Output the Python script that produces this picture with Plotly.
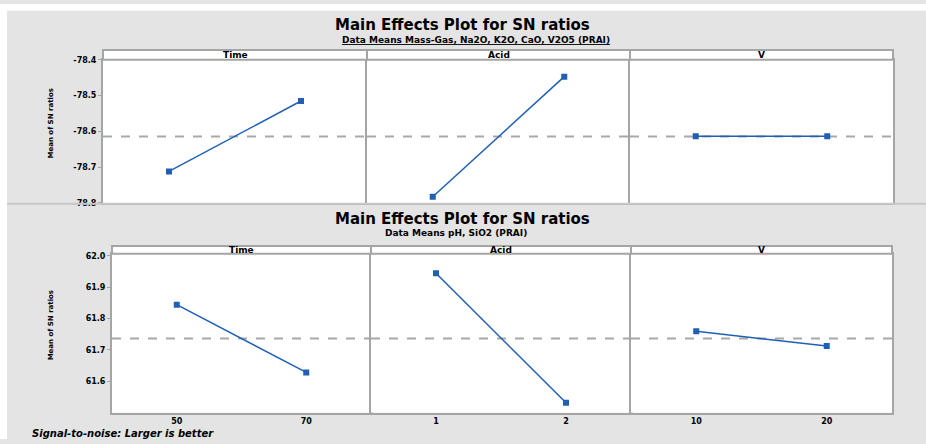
import numpy as np
import plotly.graph_objects as go

W, H = 926, 444

factors = ["Time", "Acid", "V"]
time_levels = ["50", "70"]
acid_levels = ["1", "2"]
v_levels = ["10", "20"]
levels = [time_levels, acid_levels, v_levels]

top_time_sn = [-78.712, -78.515]
top_acid_sn = [-78.783, -78.447]
top_v_sn = [-78.614, -78.614]
top_ticks = [-78.8, -78.7, -78.6, -78.5, -78.4]

bot_time_sn = [61.844, 61.628]
bot_acid_sn = [61.944, 61.531]
bot_v_sn = [61.759, 61.712]
bot_ticks = [61.6, 61.7, 61.8, 61.9, 62.0]

top_title = "Main Effects Plot for SN ratios"
top_sub = "Data Means Mass-Gas, Na2O, K2O, CaO, V2O5 (PRAI)"
bot_title = "Main Effects Plot for SN ratios"
bot_sub = "Data Means pH, SiO2 (PRAI)"
ylab = "Mean of SN ratios"
foot = "Signal-to-noise: Larger is better"

BLUE = "#1f5fb4"
GRID = "#a5a5a5"
BG = "#e4e4e4"

def fx(px):
    return px / W

def fy(py):
    return 1 - py / H

top_x = [(103, 367), (367, 630), (630, 893)]
bot_x = [(112, 371), (371, 631), (631, 892)]
top_y = (57, 203)
bot_y = (255, 417)

fig = go.Figure()
layout = {}
shapes = []
annots = []

rows = [
    (top_x, top_y, [top_time_sn, top_acid_sn, top_v_sn], top_ticks, [-78.8, -78.4], False),
    (bot_x, bot_y, [bot_time_sn, bot_acid_sn, bot_v_sn], bot_ticks, [61.5, 62.006], True),
]

XR = [-0.5, 1.5]
k = 0
for (xs, (yt, yb), series, ticks, yr, showx) in rows:
    allv = np.concatenate([np.array(s) for s in series])
    mean = float(np.mean(allv))
    for j in range(3):
        k += 1
        xa = "xaxis" if k == 1 else f"xaxis{k}"
        ya = "yaxis" if k == 1 else f"yaxis{k}"
        xr = "x" if k == 1 else f"x{k}"
        yrf = "y" if k == 1 else f"y{k}"
        # white plotting background
        fig.add_trace(go.Scatter(
            x=[XR[0], XR[1], XR[1], XR[0], XR[0]],
            y=[yr[0] - 1, yr[0] - 1, yr[1] + 1, yr[1] + 1, yr[0] - 1],
            mode="lines", fill="toself", fillcolor="white",
            line=dict(width=0, color="white"),
            xaxis=xr, yaxis=yrf, showlegend=False, hoverinfo="skip"))
        # grand mean reference line
        fig.add_trace(go.Scatter(
            x=XR, y=[mean, mean], mode="lines",
            line=dict(color="#a8a8a8", width=2, dash="dash"),
            xaxis=xr, yaxis=yrf, showlegend=False, hoverinfo="skip"))
        fig.add_trace(go.Scatter(
            x=[0, 1], y=series[j], mode="lines+markers",
            line=dict(color=BLUE, width=1.5),
            marker=dict(symbol="square", size=6, color=BLUE),
            xaxis=xr, yaxis=yrf, showlegend=False, hoverinfo="skip"))
        layout[xa] = dict(
            domain=[fx(xs[j][0]), fx(xs[j][1])], anchor=yrf,
            range=XR, tickvals=[0, 1], ticktext=levels[j],
            showticklabels=showx, showgrid=False, zeroline=False,
            showline=True, linecolor=GRID, linewidth=2, mirror=True,
            ticks="", tickfont=dict(family="DejaVu Sans", size=8, color="black", weight="bold"))
        layout[ya] = dict(
            domain=[fy(yb), fy(yt)], anchor=xr, range=yr,
            tickvals=ticks, ticktext=[f"{t:.1f}" for t in ticks],
            showticklabels=(j == 0), showgrid=False, zeroline=False,
            showline=True, linecolor=GRID, linewidth=2, mirror=True,
            ticks="outside" if j == 0 else "", ticklen=3, tickcolor=GRID,
            tickfont=dict(family="DejaVu Sans", size=8, color="black", weight="bold"))
        sh = 10 if not showx else 8
        shapes.append(dict(type="rect", xref="paper", yref="paper",
                           x0=fx(xs[j][0]), x1=fx(xs[j][1]),
                           y0=fy(yt), y1=fy(yt - sh),
                           fillcolor="white", line=dict(color=GRID, width=2)))
        annots.append(dict(text=factors[j], xref="paper", yref="paper",
                           x=fx((xs[j][0] + xs[j][1]) / 2), y=fy(yt - sh / 2),
                           showarrow=False, xanchor="center", yanchor="middle",
                           font=dict(family="DejaVu Sans", size=9, color="black", weight="bold")))
    annots.append(dict(text=ylab, xref="paper", yref="paper", textangle=-90,
                       x=fx(51), y=fy((yt + yb) / 2 - 8), showarrow=False,
                       xanchor="center", yanchor="middle",
                       font=dict(family="DejaVu Sans", size=7, color="black", weight="bold")))

bg_shapes = [
    dict(type="rect", xref="paper", yref="paper", x0=0, x1=1, y0=fy(7), y1=1,
         fillcolor="white", line=dict(width=0)),
    dict(type="rect", xref="paper", yref="paper", x0=0, x1=fx(7), y0=0, y1=1,
         fillcolor="white", line=dict(width=0)),
    dict(type="line", xref="paper", yref="paper", x0=fx(7), x1=1, y0=fy(204), y1=fy(204),
         line=dict(color="#c8c8c8", width=2)),
]

titles = [
    (top_title, 462, 21, 15, False),
    (top_sub, 476, 37, 9, True),
    (bot_title, 462, 219, 15, False),
    (bot_sub, 456, 234, 9, False),
]
for (t, x, y, s, ul) in titles:
    f = dict(family="DejaVu Sans", size=s, color="black", weight="bold")
    if ul:
        f["lineposition"] = "under"
    annots.append(dict(text=t, xref="paper", yref="paper", x=fx(x), y=fy(y),
                       showarrow=False, xanchor="center", yanchor="middle", font=f))

annots.append(dict(text=foot, xref="paper", yref="paper", x=fx(30), y=fy(438),
                   showarrow=False, xanchor="left", yanchor="middle",
                   font=dict(family="DejaVu Sans", size=10, color="black",
                             weight="bold", style="italic")))

fig.update_layout(
    width=W, height=H, margin=dict(l=0, r=0, t=0, b=0),
    paper_bgcolor=BG, plot_bgcolor="white",
    shapes=bg_shapes + shapes, annotations=annots, **layout)

fig.write_html("out.html")
